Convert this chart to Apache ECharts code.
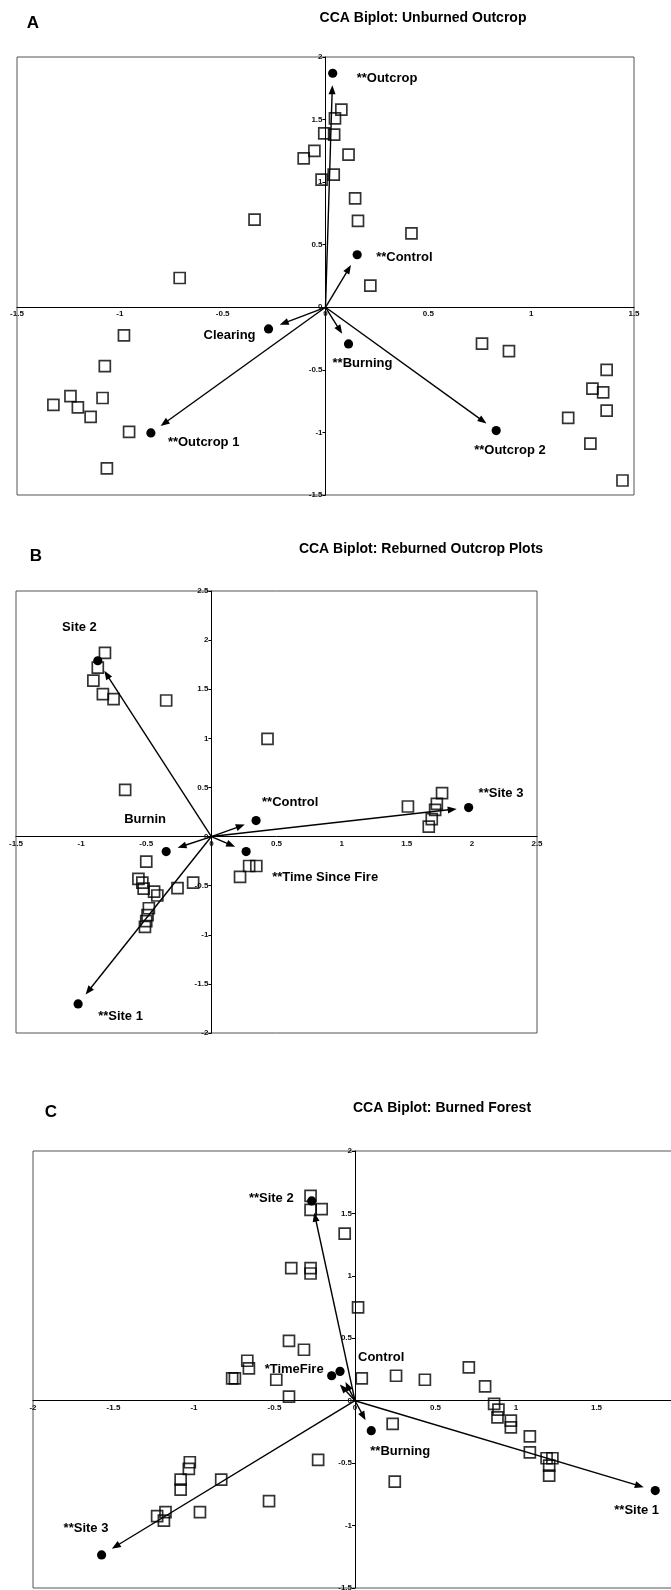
<!DOCTYPE html>
<html>
<head>
<meta charset="utf-8">
<script src="https://cdn.jsdelivr.net/npm/echarts@6/dist/echarts.min.js"></script>
<style>
  html, body { margin: 0; padding: 0; background: #fff; }
  #chart { width: 671px; height: 1590px; }
</style>
</head>
<body>
<div id="chart"></div>
<script>
// ---- Panel A: unburned outcrop (site scores + environmental vectors) ----
const unburnedPlots = [
  [0.077, 1.58], [0.046, 1.51], [-0.006, 1.39], [0.042, 1.38], [-0.054, 1.25],
  [-0.106, 1.19], [0.112, 1.22], [0.040, 1.06], [-0.019, 1.02], [0.144, 0.87],
  [0.158, 0.69], [-0.345, 0.70], [0.418, 0.59], [-0.709, 0.234], [0.218, 0.173],
  [-0.98, -0.224], [0.761, -0.29], [0.892, -0.35], [-1.073, -0.47], [1.367, -0.50],
  [-1.24, -0.71], [-1.084, -0.725], [1.298, -0.65], [1.35, -0.68], [-1.323, -0.78],
  [-1.204, -0.80], [-1.142, -0.876], [1.367, -0.825], [1.18, -0.884], [-0.955, -0.996],
  [1.288, -1.089], [-1.063, -1.288], [1.444, -1.384]
];
const unburnedVectors = [
  ['**Outcrop', 0.035, 1.87],
  ['**Control', 0.154, 0.42],
  ['Clearing', -0.277, -0.173],
  ['**Burning', 0.112, -0.293],
  ['**Outcrop 1', -0.849, -1.004],
  ['**Outcrop 2', 0.83, -0.985]
];

// ---- Panel B: reburned outcrop plots ----
const reburnedPlots = [
  [-0.817, 1.87], [-0.872, 1.72], [-0.906, 1.587], [-0.833, 1.45], [-0.751, 1.40],
  [-0.347, 1.385], [0.431, 0.995], [-0.662, 0.476], [1.771, 0.442], [1.509, 0.306],
  [1.731, 0.333], [1.718, 0.272], [1.692, 0.177], [1.669, 0.102],
  [-0.50, -0.255], [-0.56, -0.43], [-0.53, -0.47], [-0.52, -0.53], [-0.44, -0.56],
  [-0.415, -0.60], [-0.26, -0.525], [-0.14, -0.47], [-0.48, -0.73], [-0.49, -0.80],
  [-0.50, -0.86], [-0.51, -0.92], [0.22, -0.41], [0.29, -0.30], [0.345, -0.30]
];
const reburnedVectors = [
  ['Site 2', -0.872, 1.79],
  ['**Site 3', 1.975, 0.295],
  ['**Control', 0.343, 0.163],
  ['Burnin', -0.347, -0.153],
  ['**Time Since Fire', 0.267, -0.153],
  ['**Site 1', -1.023, -1.704]
];

// ---- Panel C: burned forest ----
const forestPlots = [
  [-0.276, 1.64], [-0.276, 1.528], [-0.207, 1.534], [-0.064, 1.339], [-0.396, 1.062],
  [-0.276, 1.062], [-0.276, 1.019], [0.019, 0.747], [-0.41, 0.48], [-0.317, 0.408],
  [-0.669, 0.32], [-0.659, 0.259], [-0.746, 0.179], [-0.763, 0.179], [-0.489, 0.168],
  [-0.41, 0.032], [0.042, 0.179], [0.255, 0.20], [0.434, 0.168], [0.707, 0.267],
  [0.808, 0.115], [0.864, -0.026], [0.891, -0.072], [0.885, -0.133], [0.968, -0.16],
  [0.968, -0.213], [1.086, -0.285], [1.086, -0.413], [1.19, -0.461], [1.226, -0.461],
  [1.206, -0.52], [1.206, -0.60], [0.234, -0.186], [0.247, -0.648], [-0.229, -0.474],
  [-0.534, -0.805], [-0.831, -0.632], [-1.026, -0.493], [-1.032, -0.546], [-1.083, -0.632],
  [-1.083, -0.712], [-0.963, -0.893], [-1.229, -0.925], [-1.177, -0.893], [-1.187, -0.96]
];
const forestVectors = [
  ['**Site 2', -0.269, 1.6],
  ['*TimeFire', -0.145, 0.2],
  ['Control', -0.093, 0.235],
  ['**Burning', 0.101, -0.24],
  ['**Site 1', 1.865, -0.72],
  ['**Site 3', -1.574, -1.235]
];

// Axis ranges per panel
const axisRangesX = [[-1.5, 1.5], [-1.5, 2.5], [-2, 2]];
const axisRangesY = [[-1.5, 2], [-2, 2.5], [-1.5, 2]];

// Headings
const panelLetters = ['A', 'B', 'C'];
const panelTitles = [
  'CCA Biplot: Unburned Outcrop',
  'CCA Biplot: Reburned Outcrop Plots',
  'CCA Biplot: Burned Forest'
];

// ---- layout & styling ----
const FONT = '"Liberation Sans", Arial, Helvetica, sans-serif';
const grids = [
  { left: 17, top: 57, width: 617, height: 438 },
  { left: 16, top: 591, width: 521, height: 442 },
  { left: 33, top: 1151, width: 644, height: 437 }
];
const letterPos = [[33, 23], [36, 556], [51, 1112]];
const titlePos = [[423, 18], [421, 549], [442, 1108]];

// label offsets (pixels from the vector's dot) and alignment
const labelPlacement = [
  {
    '**Outcrop': [24, 5, 'left'], '**Control': [19, 3, 'left'], 'Clearing': [-13, 6, 'right'],
    '**Burning': [-16, 19, 'left'], '**Outcrop 1': [17, 9, 'left'], '**Outcrop 2': [-22, 20, 'left']
  },
  {
    'Site 2': [-1, -33, 'right'], '**Site 3': [10, -14, 'left'], '**Control': [6, -18, 'left'],
    'Burnin': [-42, -32, 'left'], '**Time Since Fire': [26, 26, 'left'], '**Site 1': [20, 12, 'left']
  },
  {
    '**Site 2': [-18, -3, 'right'], '*TimeFire': [-8, -6, 'right'], 'Control': [18, -14, 'left'],
    '**Burning': [-1, 21, 'left'], '**Site 1': [-41, 20, 'left'], '**Site 3': [-38, -26, 'left']
  }
];

const plotSets = [unburnedPlots, reburnedPlots, forestPlots];
const vectorSets = [unburnedVectors, reburnedVectors, forestVectors];

function xAxisFor(i) {
  return {
    type: 'value', gridIndex: i, position: 'bottom',
    min: axisRangesX[i][0], max: axisRangesX[i][1], interval: 0.5,
    axisLine: { onZero: false, lineStyle: { color: '#000', width: 1 } },
    axisTick: { show: false },
    axisLabel: { fontSize: 8, fontWeight: 'bold', color: '#111', margin: 3, fontFamily: FONT,
                 showMinLabel: true, showMaxLabel: true },
    splitLine: { show: false }
  };
}
function yAxisFor(i) {
  return {
    type: 'value', gridIndex: i, position: 'left',
    min: axisRangesY[i][0], max: axisRangesY[i][1], interval: 0.5,
    axisLine: { onZero: false, lineStyle: { color: '#000', width: 1 } },
    axisTick: { show: true, length: 3, lineStyle: { color: '#000' } },
    axisLabel: { fontSize: 8, fontWeight: 'bold', color: '#111', margin: 3, fontFamily: FONT,
                 showMinLabel: true, showMaxLabel: true },
    splitLine: { show: false }
  };
}

// arrow from the origin to each vector, stopped short of its dot, plus dot and label
function vectorRenderer(panel) {
  const vecs = vectorSets[panel];
  const place = labelPlacement[panel];
  const GAP = 12, HEAD = 9, HALF = 3.5;
  return function (params, api) {
    const name = vecs[params.dataIndex][0];
    const o = api.coord([0, 0]);
    const p = api.coord([api.value(0), api.value(1)]);
    const dx = p[0] - o[0], dy = p[1] - o[1];
    const len = Math.hypot(dx, dy);
    const ux = dx / len, uy = dy / len;
    const tip = [p[0] - ux * GAP, p[1] - uy * GAP];
    const base = [tip[0] - ux * HEAD, tip[1] - uy * HEAD];
    const l = [base[0] - uy * HALF, base[1] + ux * HALF];
    const r = [base[0] + uy * HALF, base[1] - ux * HALF];
    const off = place[name] || [8, 0, 'left'];
    return {
      type: 'group',
      children: [
        { type: 'line', shape: { x1: o[0], y1: o[1], x2: base[0] + ux, y2: base[1] + uy },
          style: { stroke: '#000', lineWidth: 1.4 } },
        { type: 'polygon', shape: { points: [tip, l, r] }, style: { fill: '#000' } },
        { type: 'circle', shape: { cx: p[0], cy: p[1], r: 4.6 }, style: { fill: '#000' } },
        { type: 'text', x: p[0] + off[0], y: p[1] + off[1],
          style: { text: name, fill: '#000', font: 'bold 13px ' + FONT,
                   align: off[2], textAlign: off[2], verticalAlign: 'middle', textVerticalAlign: 'middle' } }
      ]
    };
  };
}

const series = [];
for (let i = 0; i < 3; i++) {
  series.push({
    type: 'scatter', xAxisIndex: i, yAxisIndex: i, z: 2,
    symbol: 'rect', symbolSize: 11,
    itemStyle: { color: 'rgba(255,255,255,0)', borderColor: '#000', borderWidth: 1.7 },
    data: plotSets[i],
    silent: true, animation: false
  });
  series.push({
    type: 'custom', xAxisIndex: i, yAxisIndex: i, z: 3,
    renderItem: vectorRenderer(i),
    data: vectorSets[i].map(v => [v[1], v[2]]),
    encode: { x: 0, y: 1 },
    clip: false, silent: true, animation: false
  });
}

const graphics = [];
for (let i = 0; i < 3; i++) {
  graphics.push({
    type: 'text', x: letterPos[i][0], y: letterPos[i][1],
    style: { text: panelLetters[i], fill: '#000', font: 'bold 17px ' + FONT,
             align: 'center', textAlign: 'center', verticalAlign: 'middle', textVerticalAlign: 'middle' }
  });
  graphics.push({
    type: 'text', x: titlePos[i][0], y: titlePos[i][1],
    style: { text: panelTitles[i], fill: '#000', font: 'bold 14px ' + FONT,
             align: 'center', textAlign: 'center', verticalAlign: 'middle', textVerticalAlign: 'middle' }
  });
}

const chart = echarts.init(document.getElementById('chart'), null, { renderer: 'canvas', width: 671, height: 1590 });
chart.setOption({
  backgroundColor: '#fff',
  animation: false,
  grid: grids.map(g => Object.assign({ show: true, borderColor: '#555', borderWidth: 1,
                                       backgroundColor: 'transparent', containLabel: false,
                                       outerBoundsMode: 'none' }, g)),
  xAxis: [0, 1, 2].map(xAxisFor),
  yAxis: [0, 1, 2].map(yAxisFor),
  graphic: graphics,
  series: series
});

// Move each axis (line, ticks and labels) so it crosses the plot at zero.
const xOffsets = [], yOffsets = [];
for (let i = 0; i < 3; i++) {
  const yZero = chart.convertToPixel({ yAxisIndex: i }, 0);
  const yBottom = chart.convertToPixel({ yAxisIndex: i }, axisRangesY[i][0]);
  const xZero = chart.convertToPixel({ xAxisIndex: i }, 0);
  const xLeft = chart.convertToPixel({ xAxisIndex: i }, axisRangesX[i][0]);
  xOffsets.push({ offset: yZero - yBottom });
  yOffsets.push({ offset: xLeft - xZero });
}
chart.setOption({ xAxis: xOffsets, yAxis: yOffsets });
</script>
</body>
</html>
